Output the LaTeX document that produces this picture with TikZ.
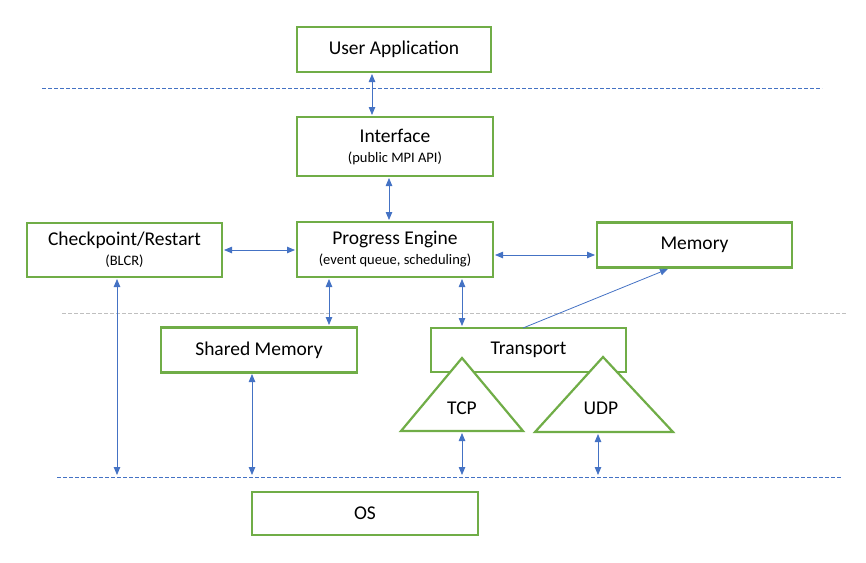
\documentclass[tikz,border=0pt]{standalone}
\usepackage{fontspec}
\setmainfont{Carlito}
\usetikzlibrary{arrows.meta}
\definecolor{grn}{HTML}{70AD47}
\definecolor{blu}{HTML}{4472C4}
\definecolor{gry}{HTML}{BFBFBF}
\newcommand{\subtxt}{\fontsize{14.5}{16}\selectfont}
\begin{document}
\begin{tikzpicture}[x=1pt,y=-1pt,
  box/.style={draw=grn, line width=2.2pt, fill=white, inner sep=0pt, align=center,
    font=\fontsize{19.5}{22}\selectfont},
  tri/.style={draw=grn, line width=2.2pt, fill=white, line join=miter},
  lbl/.style={inner sep=0pt, font=\fontsize{19.5}{22}\selectfont},
  conn/.style={draw=blu, line width=0.8pt, {Triangle[length=8pt,width=6.5pt]}-{Triangle[length=8pt,width=6.5pt]}, shorten <=2pt, shorten >=2pt},
  oneway/.style={draw=blu, line width=0.8pt, -{Triangle[length=8pt,width=6.5pt]}},
  bline/.style={draw=blu, line width=0.9pt, dash pattern=on 3.5pt off 2.5pt},
  gline/.style={draw=gry, line width=0.9pt, dash pattern=on 3.5pt off 2.5pt}]
\useasboundingbox (0,0) rectangle (866,562);

% dashed separators
\coordinate (t1) at (42,88);  \coordinate (t2) at (822,88);
\coordinate (m1) at (62,313); \coordinate (m2) at (846,313);
\coordinate (b1) at (57,477); \coordinate (b2) at (842,477);
\draw[bline] (t1) -- (t2);
\draw[gline] (m1) -- (m2);
\draw[bline] (b1) -- (b2);

% boxes
\node[box, minimum width=194pt, minimum height=45pt] (ua) at (394,49.5) {User Application};
\node[box, minimum width=196pt, minimum height=59pt] (intf) at (395,146.5) {Interface\\[-2pt]{\subtxt (public MPI API)}};
\node[box, minimum width=195pt, minimum height=54pt] (cr) at (124.5,250) {Checkpoint/Restart\\[-2pt]{\subtxt (BLCR)}};
\node[box, minimum width=196pt, minimum height=55pt] (pe) at (395,249.5) {Progress Engine\\[-2pt]{\subtxt (event queue, scheduling)}};
\node[box, minimum width=195pt, minimum height=45pt] (mem) at (694.5,245) {Memory};
\node[box, minimum width=196pt, minimum height=45pt] (sm) at (259,350) {Shared Memory};
\node[box, minimum width=195pt, minimum height=44pt] (tr) at (528.5,350) {Transport};
\node[box, minimum width=226pt, minimum height=43pt] (os) at (365,513.5) {OS};

% triangles
\draw[tri] (462,358) -- (523,431) -- (401,431) -- cycle;
\node[lbl] (tcp) at (462,408) {TCP};
\draw[tri] (603,357) -- (673,432) -- (535,432) -- cycle;
\node[lbl] (udp) at (601,408) {UDP};

% connector anchors
\coordinate (uab) at (372,72);   \coordinate (intt) at (372,117);
\coordinate (intb) at (389,176); \coordinate (pet) at (389,222);
\coordinate (crr) at (222,250);  \coordinate (pel) at (297,250);
\coordinate (per) at (493,255);  \coordinate (meml) at (597,255);
\coordinate (peb1) at (329,277); \coordinate (smt) at (329,327);
\coordinate (peb2) at (462,277); \coordinate (trt) at (462,328);
\coordinate (trs) at (523,328);  \coordinate (memb) at (668,269);
\coordinate (crb) at (117,277);  \coordinate (crd) at (117,477);
\coordinate (smb) at (252,372);  \coordinate (smd) at (252,477);
\coordinate (tcpb) at (462,431); \coordinate (tcpd) at (462,477);
\coordinate (udpb) at (598,432); \coordinate (udpd) at (598,477);

\draw[conn] (uab) -- (intt);
\draw[conn] (intb) -- (pet);
\draw[conn] (crr) -- (pel);
\draw[conn] (per) -- (meml);
\draw[conn] (peb1) -- (smt);
\draw[conn] (peb2) -- (trt);
\draw[oneway] (trs) -- (memb);
\draw[conn] (crb) -- (crd);
\draw[conn] (smb) -- (smd);
\draw[conn] (tcpb) -- (tcpd);
\draw[conn] (udpb) -- (udpd);
\end{tikzpicture}
\end{document}
